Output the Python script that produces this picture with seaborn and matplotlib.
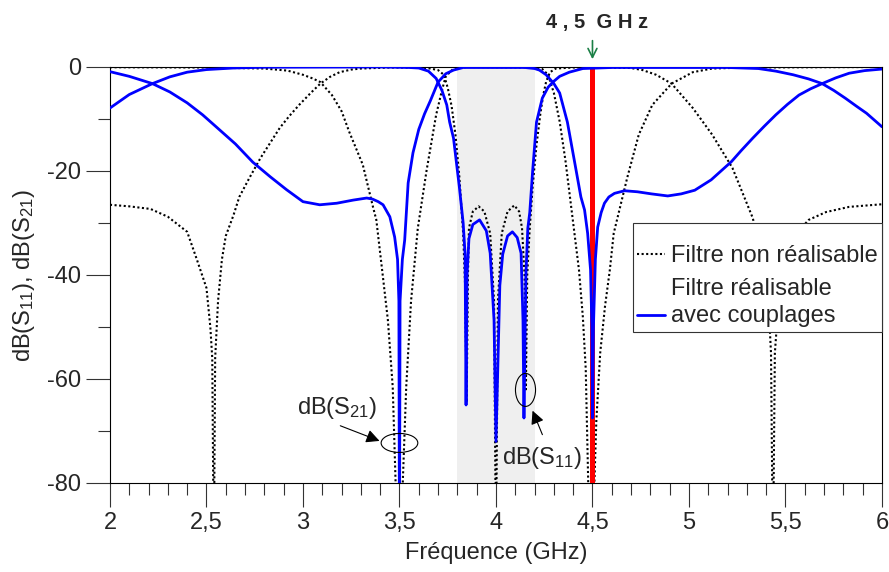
import seaborn as sns
import matplotlib.pyplot as plt
import pandas as pd
from matplotlib.patches import Ellipse

# non-realisable filter (dotted)
f_s11_ideal = [2.0, 2.1, 2.21, 2.3, 2.4, 2.45, 2.5, 2.52, 2.53, 2.538, 2.545, 2.56, 2.58, 2.6, 2.64,
               2.67, 2.72, 2.78, 2.88, 2.93, 2.98, 3.04, 3.09, 3.14, 3.19, 3.25, 3.3, 3.45, 3.6,
               3.66, 3.7, 3.73, 3.75, 3.77, 3.79, 3.81, 3.83, 3.84, 3.848, 3.855, 3.86, 3.88,
               3.91, 3.94, 3.97, 3.99, 4.0, 4.01, 4.03, 4.06, 4.095, 4.12, 4.135, 4.148, 4.155,
               4.162, 4.175, 4.19, 4.21, 4.23, 4.245, 4.26, 4.28, 4.31, 4.4, 4.6, 4.7, 4.76,
               4.83, 4.91, 5.02, 5.12, 5.225, 5.33, 5.38, 5.41, 5.425, 5.435, 5.445, 5.47, 5.52,
               5.57, 5.62, 5.71, 5.83, 6.0]
db_s11_ideal = [-26.5, -26.8, -27.3, -28.8, -31.7, -37.0, -42.5, -50.0, -56.0, -95.0, -56.0, -45.0,
                -37.0, -32.5, -28.5, -25.0, -21.5, -17.5, -11.7, -9.4, -7.3, -5.0, -3.2, -1.9,
                -1.0, -0.5, -0.3, -0.1, -0.1, -0.3, -0.6, -1.5, -4.0, -7.5, -13.0, -21.0, -32.0,
                -42.0, -64.5, -40.0, -31.0, -27.8, -26.8, -27.8, -32.0, -45.0, -95.0, -45.0,
                -32.0, -27.8, -26.6, -27.8, -31.0, -40.0, -62.0, -40.0, -31.0, -23.0, -15.0,
                -9.0, -5.4, -2.8, -1.0, -0.3, -0.1, -0.1, -0.2, -0.6, -1.5, -3.2, -7.9, -13.0,
                -19.4, -29.0, -36.0, -44.0, -55.0, -95.0, -55.0, -42.0, -35.0, -31.5, -29.4,
                -27.9, -26.9, -26.4]

f_s21_ideal = [2.0, 2.5, 2.8, 2.92, 3.0, 3.05, 3.09, 3.15, 3.2, 3.24, 3.31, 3.36, 3.38, 3.41, 3.44,
               3.465, 3.48, 3.498, 3.517, 3.535, 3.56, 3.595, 3.64, 3.69, 3.72, 3.74, 3.78, 3.85,
               4.2, 4.24, 4.27, 4.3, 4.33, 4.36, 4.39, 4.43, 4.45, 4.465, 4.478, 4.495, 4.51,
               4.52, 4.54, 4.565, 4.59, 4.61, 4.68, 4.74, 4.81, 4.91, 5.02, 5.12, 5.3, 6.0]
db_s21_ideal = [-0.05, -0.1, -0.3, -0.7, -1.5, -2.2, -2.9, -5.4, -8.5, -12.5, -18.8, -26.5, -29.4,
                -39.0, -48.7, -61.5, -80.0, -95.0, -80.0, -61.5, -45.0, -31.0, -20.0, -9.2, -4.5,
                -1.8, -0.3, 0.0, -0.1, -0.4, -1.5, -5.0, -10.5, -18.0, -27.0, -39.0, -48.0, -58.0,
                -80.0, -95.0, -80.0, -68.0, -55.0, -46.0, -39.0, -32.0, -21.3, -13.0, -7.3, -3.2,
                -1.0, -0.3, -0.1, 0.0]

# realisable filter with couplings (blue)
f_s11_real = [2.0, 2.1, 2.22, 2.31, 2.4, 2.5, 2.64, 2.8, 3.4, 3.55, 3.6, 3.65, 3.69, 3.72, 3.745,
              3.76, 3.78, 3.81, 3.83, 3.84, 3.845, 3.85, 3.86, 3.88, 3.915, 3.95, 3.97, 3.99,
              4.0, 4.02, 4.035, 4.06, 4.085, 4.11, 4.13, 4.14, 4.145, 4.155, 4.165, 4.175, 4.19,
              4.21, 4.24, 4.27, 4.295, 4.33, 4.38, 4.45, 4.6, 5.2, 5.36, 5.45, 5.54, 5.62, 5.69,
              5.75, 5.81, 5.87, 5.92, 6.0]
db_s11_real = [-7.9, -5.3, -3.2, -1.9, -1.0, -0.5, -0.2, -0.05, 0.0, -0.1, -0.2, -0.8, -2.2, -4.5,
               -7.3, -10.6, -13.7, -23.0, -30.0, -36.0, -65.0, -40.0, -33.0, -30.3, -29.4, -31.5,
               -35.8, -48.7, -72.0, -42.0, -36.0, -32.5, -31.7, -32.8, -35.8, -48.7, -67.5, -40.0,
               -31.0, -28.0, -20.0, -10.6, -6.0, -3.9, -2.9, -1.8, -1.0, -0.3, -0.1, -0.1, -0.3,
               -0.8, -1.5, -2.3, -3.2, -4.5, -6.0, -7.6, -8.9, -11.5]

f_s21_real = [2.0, 2.1, 2.22, 2.31, 2.4, 2.48, 2.55, 2.65, 2.74, 2.83, 2.915, 3.0, 3.087, 3.175,
              3.26, 3.33, 3.36, 3.39, 3.415, 3.45, 3.475, 3.49, 3.497, 3.5, 3.503, 3.515, 3.527,
              3.545, 3.57, 3.6, 3.63, 3.66, 3.7, 3.74, 3.78, 3.83, 4.15, 4.2, 4.225, 4.26, 4.3,
              4.33, 4.37, 4.41, 4.44, 4.459, 4.475, 4.49, 4.497, 4.5, 4.505, 4.515, 4.527, 4.545,
              4.562, 4.585, 4.614, 4.666, 4.733, 4.805, 4.89, 4.96, 5.03, 5.115, 5.22, 5.27, 5.33,
              5.39, 5.45, 5.51, 5.57, 5.63, 5.69, 5.76, 5.83, 5.91, 6.0]
db_s21_real = [-0.9, -1.8, -3.2, -4.8, -6.9, -9.2, -11.5, -14.8, -18.3, -21.1, -23.6, -25.9, -26.5,
               -26.2, -25.6, -25.2, -25.4, -25.9, -26.5, -28.8, -32.7, -37.0, -45.0, -95.0, -45.0,
               -37.0, -33.3, -22.3, -16.5, -12.0, -9.0, -6.5, -2.9, -1.3, -0.6, -0.1, -0.1, -0.3,
               -0.6, -1.5, -3.2, -5.0, -10.6, -18.8, -25.0, -27.5, -32.0, -39.0, -50.0, -67.5,
               -50.0, -37.0, -30.8, -28.0, -26.2, -25.0, -24.3, -23.8, -24.0, -24.4, -24.8, -24.4,
               -23.7, -21.7, -18.2, -16.1, -13.7, -11.4, -9.2, -7.2, -5.4, -4.2, -3.2, -2.1,
               -1.2, -0.7, -0.4]

band = (3.8, 4.2)
f_marker = 4.5
marker_label = "4 , 5  G H z"
x_ticks = [2, 2.5, 3, 3.5, 4, 4.5, 5, 5.5, 6]
x_ticklabels = ["2", "2,5", "3", "3,5", "4", "4,5", "5", "5,5", "6"]
y_ticks = [0, -20, -40, -60, -80]

sns.set_theme(style="ticks")
plt.rcParams['font.family'] = ['Liberation Sans', 'DejaVu Sans']
plt.rcParams['mathtext.fontset'] = 'custom'
plt.rcParams['mathtext.rm'] = 'Liberation Sans'
plt.rcParams['mathtext.default'] = 'regular'
plt.rcParams['axes.unicode_minus'] = False

fig = plt.figure(figsize=(8.89, 5.72), dpi=100)
ax = fig.add_axes([0.1237, 0.1556, 0.8684, 0.7273])

ax.axvspan(band[0], band[1], color='#efefef', lw=0, zorder=0)

dots = (0, (1, 1.2))
df = pd.DataFrame({'f': f_s11_ideal, 'db': db_s11_ideal})
sns.lineplot(data=df, x='f', y='db', sort=False, estimator=None, ax=ax, color='black',
             lw=1.5, linestyle=dots, label='Filtre non réalisable', zorder=2)
df = pd.DataFrame({'f': f_s21_ideal, 'db': db_s21_ideal})
sns.lineplot(data=df, x='f', y='db', sort=False, estimator=None, ax=ax, color='black',
             lw=1.5, linestyle=dots, zorder=2)

ax.vlines(f_marker, -80, 0, color='#ff0000', lw=3.6, zorder=3)

df = pd.DataFrame({'f': f_s11_real, 'db': db_s11_real})
sns.lineplot(data=df, x='f', y='db', sort=False, estimator=None, ax=ax, color='#0000ff',
             lw=2.0, label='Filtre réalisable\navec couplages', zorder=4)
df = pd.DataFrame({'f': f_s21_real, 'db': db_s21_real})
sns.lineplot(data=df, x='f', y='db', sort=False, estimator=None, ax=ax, color='#0000ff',
             lw=2.0, zorder=4)

ax.set_xlim(2, 6)
ax.set_ylim(-80, 0)
ax.set_xticks(x_ticks)
ax.set_xticklabels(x_ticklabels)
ax.set_xticks([2 + 0.1 * i for i in range(41)], minor=True)
ax.set_yticks(y_ticks)
ax.set_yticks([-10, -30, -50, -70], minor=True)
ax.tick_params(which='major', length=17, width=0.8, color='#333333', labelsize=17, pad=4)
ax.tick_params(which='minor', length=8.5, width=0.8, color='#333333')
for s in ax.spines.values():
    s.set_color('black')
    s.set_linewidth(0.8)

ax.set_xlabel('Fréquence (GHz)', fontsize=17, labelpad=6)
ax.set_ylabel('dB(S$_{11}$), dB(S$_{21}$)', fontsize=17, labelpad=7)

leg = ax.legend(loc='upper right', bbox_to_anchor=(1.0, 0.625), borderaxespad=0,
                fontsize=17, frameon=True, fancybox=False, framealpha=1,
                title=' ', title_fontsize=6,
                handlelength=1.15, handletextpad=0.25, borderpad=0.2, labelspacing=0.45)
leg.get_frame().set_edgecolor('#333333')
leg.get_frame().set_linewidth(0.8)
leg.set_zorder(5)
for t in leg.get_texts():
    t.set_linespacing(1.3)
h = leg.legend_handles[1]
h.set_ydata([y - 9 for y in h.get_ydata()])

# annotations
ax.add_patch(Ellipse((3.5, -72.3), 0.19, 3.65, fill=False, ec='black', lw=0.8, zorder=5))
ax.add_patch(Ellipse((4.153, -62.1), 0.104, 6.35, fill=False, ec='black', lw=0.8, zorder=5))
ax.annotate('', xy=(3.41, -72.1), xytext=(3.18, -68.8),
            arrowprops=dict(arrowstyle='-|>', color='black', lw=0.8, mutation_scale=20))
ax.annotate('', xy=(4.184, -65.6), xytext=(4.246, -71.2),
            arrowprops=dict(arrowstyle='-|>', color='black', lw=0.8, mutation_scale=20))
ax.text(2.968, -65.6, 'dB(S$_{21}$)', fontsize=17, ha='left', va='center')
ax.text(4.03, -75.2, 'dB(S$_{11}$)', fontsize=17, ha='left', va='center')

ax.annotate(marker_label, xy=(4.525, 1.108), xycoords=('data', 'axes fraction'),
            ha='center', va='center', fontsize=14.5, fontweight='bold')
ax.annotate('', xy=(f_marker, 1.012), xycoords=('data', 'axes fraction'),
            xytext=(f_marker, 1.07), textcoords=('data', 'axes fraction'),
            arrowprops=dict(arrowstyle='->', color='#1a7f45', lw=1.2, mutation_scale=16))

fig.savefig('out.png', dpi=100)
